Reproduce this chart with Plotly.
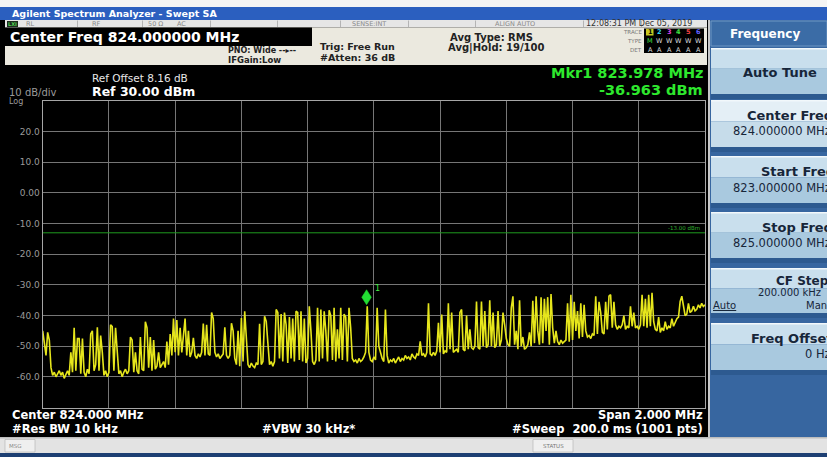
import numpy as np
import plotly.graph_objects as go

W, H = 827, 457
FONT = "DejaVu Sans"

# ---------------- data ----------------
START_MHZ = 823.0
STOP_MHZ = 825.0
REF_DBM = 30.0
BOTTOM_DBM = -70.0
DISPLAY_LINE_DBM = -13.0
MARKER_MHZ = 823.978
MARKER_DBM = -36.963
XGRID_STEP_MHZ = 0.2

level_dbm = [
    -45, -50, -53, -45.5, -48, -57, -59.5, -58.5, -60, -59, -58, -59.5, -58.5, -60.5, -59, -58, -59.5, -52, -58.5, -44,
    -58, -47.5, -47.5, -59, -47.5, -58.5, -60, -57.5, -59, -46, -45, -58, -56, -43.8, -58, -46.5, -52, -59.5, -58, -60,
    -58.5, -43, -43.6, -58, -44, -52, -59, -58, -60, -58.5, -57.5, -59, -58, -47, -48, -58.5, -52, -58, -59, -47,
    -57.5, -58, -42, -44, -57, -47, -58, -48, -57.5, -56.5, -52, -57, -56, -55, -57, -48.5, -56, -46, -53, -41,
    -52, -41.5, -53, -44, -52, -47, -41, -53, -45, -53.5, -52, -47.3, -53, -54, -52.5, -53.5, -52, -42.6, -53, -43,
    -52.5, -53, -39, -41, -52, -53.5, -52.5, -54, -53, -52.5, -43.8, -53, -54, -53, -42.5, -45, -54, -56, -45, -56.5,
    -40.8, -55, -38.6, -48, -56, -57, -55.5, -56.5, -57, -55.5, -56, -42.7, -56, -55, -40.2, -41.9, -50, -56, -55, -56.5,
    -55, -38, -39, -54, -39.5, -55, -39, -43, -55.5, -40.5, -54, -41, -55, -38.6, -39, -54.5, -38.6, -55, -41, -55.5,
    -54, -37, -45, -55, -56, -54.5, -37.5, -55, -38, -54, -38.6, -45, -55, -38.3, -40, -54.5, -37.5, -55, -44.5, -54,
    -37.5, -54.5, -39.5, -40.5, -55, -37.5, -44, -54, -55, -54.5, -55.5, -54, -55, -54.5, -53.5, -52, -36.96, -52, -54.5, -55,
    -53.5, -54.5, -37.5, -50, -52, -54, -55, -38, -53, -55.5, -54.5, -55, -54, -55.5, -54.5, -53.5, -55, -54, -54.5, -53,
    -54, -53.5, -54.5, -52.5, -53.5, -54, -52.5, -53, -48.4, -53, -52.5, -53.5, -52, -36, -52.5, -53, -52, -53, -51.5, -42.4,
    -52, -39.7, -52.5, -51.5, -52, -36, -51, -39, -52, -51.5, -51, -52, -39, -38, -51, -51.5, -40, -51, -44.5, -50.5,
    -51, -50, -35.4, -50.5, -51, -35.4, -50, -38.5, -50.5, -49.5, -35, -50, -39, -50.5, -49.5, -38.5, -50, -48, -39, -43,
    -47.5, -49.5, -50, -37.5, -33.7, -49.5, -45, -51, -35, -50, -47, -51, -50.5, -49.5, -45.5, -50, -35.2, -49, -33.7, -45,
    -49.5, -34, -49, -34.5, -45, -34, -49.5, -33, -44, -49, -45, -48.5, -49.5, -48, -49, -48.5, -48, -36, -48.5, -33.2,
    -48, -35.5, -45, -38.5, -47.5, -36, -47, -36.5, -45, -47, -46.5, -47.5, -46, -46.5, -33.7, -46, -35.5, -39, -45.5, -46,
    -35.5, -44.5, -33.7, -33.2, -44, -35.5, -43, -44.5, -43.5, -44, -43, -40, -44.5, -43.5, -44, -37, -43.5, -39, -44, -43.5,
    -44.5, -43, -33.2, -43.5, -34.5, -44, -33.2, -43.5, -32.6, -42, -44.5, -45, -40.5, -45.5, -44, -45, -42, -44.5, -43.5, -44,
    -41, -43.5, -42, -41, -40.5, -35.4, -33.7, -36.5, -40, -39.5, -36, -39, -38.5, -37, -38.5, -38, -36.5, -37.5, -36, -37, -36.5,
]

ytick_vals = [20, 10, 0, -10, -20, -30, -40, -50, -60]
ytick_text = ["20.0", "10.0", "0.00", "-10.0", "-20.0", "-30.0", "-40.0", "-50.0", "-60.0"]

# sweep points spread evenly over the span
freq_mhz = np.linspace(START_MHZ, STOP_MHZ, len(level_dbm))

# ---------------- layout helpers ----------------
shapes = []
annotations = []


def box(x0, y0, x1, y1, fill, line_color=None, lw=0):
    shapes.append(dict(type="rect", xref="paper", yref="paper",
                       x0=x0 / W, x1=x1 / W, y0=1 - y1 / H, y1=1 - y0 / H,
                       fillcolor=fill, line=dict(color=line_color or fill, width=lw),
                       layer="below"))


def label(x, y, text, size, color, anchor="left", bold=False, family=FONT):
    annotations.append(dict(xref="paper", yref="paper", x=x / W, y=1 - y / H,
                            text=f"<b>{text}</b>" if bold else text,
                            showarrow=False, xanchor=anchor, yanchor="middle",
                            borderpad=0, borderwidth=0,
                            font=dict(family=family, size=size, color=color)))


# window chrome
box(0, 0, W, 7, "#f4f4f4")
box(0, 7, W, 20, "#2b5fbf")
label(12, 14, "Agilent Spectrum Analyzer - Swept SA", 9.5, "#ffffff", bold=True)

# status row
box(5, 20, 707, 27.5, "#e6e6e6")
for sx in [77, 142, 210, 277, 340, 408, 475, 583, 641]:
    box(sx, 20.5, sx + 0.8, 27, "#a8a8a8")
box(7, 21, 18, 27, "#1e2a1e")
label(8, 24, "LXI", 5, "#50d050", bold=True)
label(26, 24, "RL", 6.5, "#8a8a8a")
label(92, 24, "RF", 6.5, "#8a8a8a")
label(148, 24, "50 Ω", 6.5, "#8a8a8a")
label(177, 24, "AC", 6.5, "#8a8a8a")
label(352, 24, "SENSE:INT", 6.5, "#8a8a8a")
label(495, 24, "ALIGN AUTO", 6.5, "#8a8a8a")
label(586, 24, "12:08:31 PM Dec 05, 2019", 8, "#333333")

# info panel
box(5, 27.5, 707, 65, "#ebe9df")
box(5, 27.5, 312, 46, "#000000")
label(10, 37, "Center Freq 824.000000 MHz", 14, "#ffffff", bold=True)
label(228, 50, "PNO: Wide --▸--", 8, "#222222", bold=True)
label(228, 59.5, "IFGain:Low", 8.5, "#222222", bold=True)
label(320, 46.5, "Trig: Free Run", 9.5, "#222222", bold=True)
label(320, 58, "#Atten: 36 dB", 9.5, "#222222", bold=True)
label(450, 38, "Avg Type: RMS", 10, "#222222", bold=True)
label(448, 48.5, "Avg|Hold: 19/100", 10, "#222222", bold=True)
label(642, 32, "TRACE", 5.5, "#777777", anchor="right")
label(642, 41, "TYPE", 5.5, "#777777", anchor="right")
label(642, 49.5, "DET", 5.5, "#777777", anchor="right")
box(644, 28.5, 704, 53, "#000000")
trace_colors = ["#f0f020", "#30d0f0", "#e040e0", "#40e040", "#f04040", "#6060ff"]
box(646, 28.8, 653.5, 35.5, "#c8c820")
for k in range(6):
    cx = 650 + k * 9.6
    label(cx, 32, str(k + 1), 6.5, "#000000" if k == 0 else trace_colors[k], anchor="center", bold=True)
    label(cx, 41, "M" if k == 0 else "W", 6.5, "#40e040" if k == 0 else "#dddddd", anchor="center")
    label(cx, 49.5, "A", 6.5, "#dddddd", anchor="center")

# display area
box(0, 65, 708, 437, "#000000")
label(92, 78.5, "Ref Offset 8.16 dB", 10.5, "#e8e8e8")
label(92, 91, "Ref 30.00 dBm", 12.5, "#ffffff", bold=True)
label(9, 92.5, "10 dB/div", 10, "#9a9a9a")
label(9, 102, "Log", 8, "#9a9a9a")
label(703, 72.5, "Mkr1 823.978 MHz", 14.5, "#2ee82e", anchor="right", bold=True)
label(703, 90, "-36.963 dBm", 14.5, "#2ee82e", anchor="right", bold=True)
label(12, 415, "Center 824.000 MHz", 11.5, "#ffffff", bold=True)
label(12, 428.5, "#Res BW 10 kHz", 11.5, "#ffffff", bold=True)
label(262, 428.5, "#VBW 30 kHz*", 11.5, "#ffffff", bold=True)
label(703, 415, "Span 2.000 MHz", 11.5, "#ffffff", anchor="right", bold=True)
label(703, 428.5, "#Sweep  200.0 ms (1001 pts)", 11.5, "#ffffff", anchor="right", bold=True)

# soft key panel
box(708, 20, W, 437, "#3766a0")
box(708, 20, 710, 437, "#c8c8c8")
box(711, 21, W, 46, "#3b6ca6", "#6f97c4", 1)
label(730, 34.5, "Frequency", 12, "#ffffff", bold=True)

buttons = [(48, 94, False), (100, 147, True), (156, 203, False),
           (212, 258, False), (268, 313, False), (323, 370, False)]
for (t, b, sel) in buttons:
    hgt = b - t
    if sel:
        box(711, t, W, t + hgt * 0.45, "#e4eff6")
        box(711, t + hgt * 0.45, W, b, "#c6dcea")
    else:
        box(711, t, W, t + hgt * 0.45, "#c9dfed")
        box(711, t + hgt * 0.45, W, b, "#a9c9df")
    box(711, t, W, t + 1.5, "#f2f8fb")
    box(711, b, W, b + 5, "#2d5a90")

dark = "#17263a"
label(743, 72, "Auto Tune", 13, dark, bold=True)
label(747, 115.5, "Center Freq", 13, dark, bold=True)
label(733, 130.5, "824.000000 MHz", 11.5, dark)
label(761, 171.5, "Start Freq", 13, dark, bold=True)
label(733, 187.5, "823.000000 MHz", 11.5, dark)
label(762, 227.5, "Stop Freq", 13, dark, bold=True)
label(733, 243.5, "825.000000 MHz", 11.5, dark)
label(776, 280.5, "CF Step", 12, dark, bold=True)
label(758, 292.5, "200.000 kHz", 10, dark)
label(713, 305, "<u>Auto</u>", 10, dark)
label(806, 305, "Man", 10, dark)
label(751, 338.5, "Freq Offset", 13, dark, bold=True)
label(805, 354, "0 Hz", 11.5, dark)

# message bar
box(0, 437, W, 453, "#e3e3e3")
box(0, 437, W, 438.5, "#bdbdbd")
box(5, 439.5, 35, 452, "#efefef", "#b0b0b0", 0.6)
label(9, 445.5, "MSG", 5.5, "#888888")
box(533, 439.5, 573, 452, "#efefef", "#b0b0b0", 0.6)
label(553, 445.5, "STATUS", 5.5, "#777777", anchor="center")
box(0, 453, W, H, "#1d3f73")

# display line and marker (in data coordinates)
shapes.append(dict(type="line", xref="x", yref="y", x0=START_MHZ, x1=STOP_MHZ,
                   y0=DISPLAY_LINE_DBM, y1=DISPLAY_LINE_DBM,
                   line=dict(color="#1f9a1f", width=1), layer="above"))
annotations.append(dict(xref="x", yref="y", x=STOP_MHZ, y=DISPLAY_LINE_DBM,
                        text="-13.00 dBm", showarrow=False, xanchor="right",
                        yanchor="bottom", xshift=-3, yshift=0,
                        font=dict(family=FONT, size=5.5, color="#2fae2f")))
shapes.append(dict(type="path", xref="x", yref="y",
                   xsizemode="pixel", ysizemode="pixel",
                   xanchor=MARKER_MHZ, yanchor=MARKER_DBM,
                   path="M 0 1.5 L 4.8 9 L 0 16.5 L -4.8 9 Z",
                   fillcolor="#22dd33", line=dict(color="#22dd33", width=0.5),
                   layer="above"))
annotations.append(dict(xref="x", yref="y", x=MARKER_MHZ, y=MARKER_DBM,
                        text="1", showarrow=False, xanchor="left", yanchor="bottom",
                        xshift=6, yshift=11,
                        font=dict(family=FONT, size=8, color="#44ee44")))

fig = go.Figure()
fig.add_trace(go.Scatter(x=freq_mhz, y=level_dbm, mode="lines",
                         line=dict(color="#e6e61c", width=1.6),
                         hoverinfo="skip", showlegend=False))

x0p, x1p = 42.7, 705.0
ytop, ybot = 101.0, 407.5
fig.update_layout(
    width=W, height=H, autosize=False,
    margin=dict(l=0, r=0, t=0, b=0, pad=0),
    paper_bgcolor="#000000", plot_bgcolor="#000000",
    shapes=shapes, annotations=annotations, showlegend=False,
    xaxis=dict(domain=[x0p / W, x1p / W], range=[START_MHZ, STOP_MHZ],
               tick0=START_MHZ, dtick=XGRID_STEP_MHZ, showticklabels=False,
               showgrid=True, gridcolor="#767676", gridwidth=1, zeroline=False,
               showline=True, linecolor="#a6a6a6", linewidth=1.2, mirror=True,
               ticks="", fixedrange=True),
    yaxis=dict(domain=[1 - ybot / H, 1 - ytop / H], range=[BOTTOM_DBM, REF_DBM],
               tickvals=ytick_vals, ticktext=ytick_text,
               tickfont=dict(family=FONT, size=9, color="#9a9a9a"),
               showgrid=True, gridcolor="#767676", gridwidth=1, zeroline=False,
               showline=True, linecolor="#a6a6a6", linewidth=1.2, mirror=True,
               ticks="", fixedrange=True),
)

fig.write_html("out.html", config={"displayModeBar": False},
               post_script="document.body.style.margin='0';document.body.style.overflow='hidden';")
